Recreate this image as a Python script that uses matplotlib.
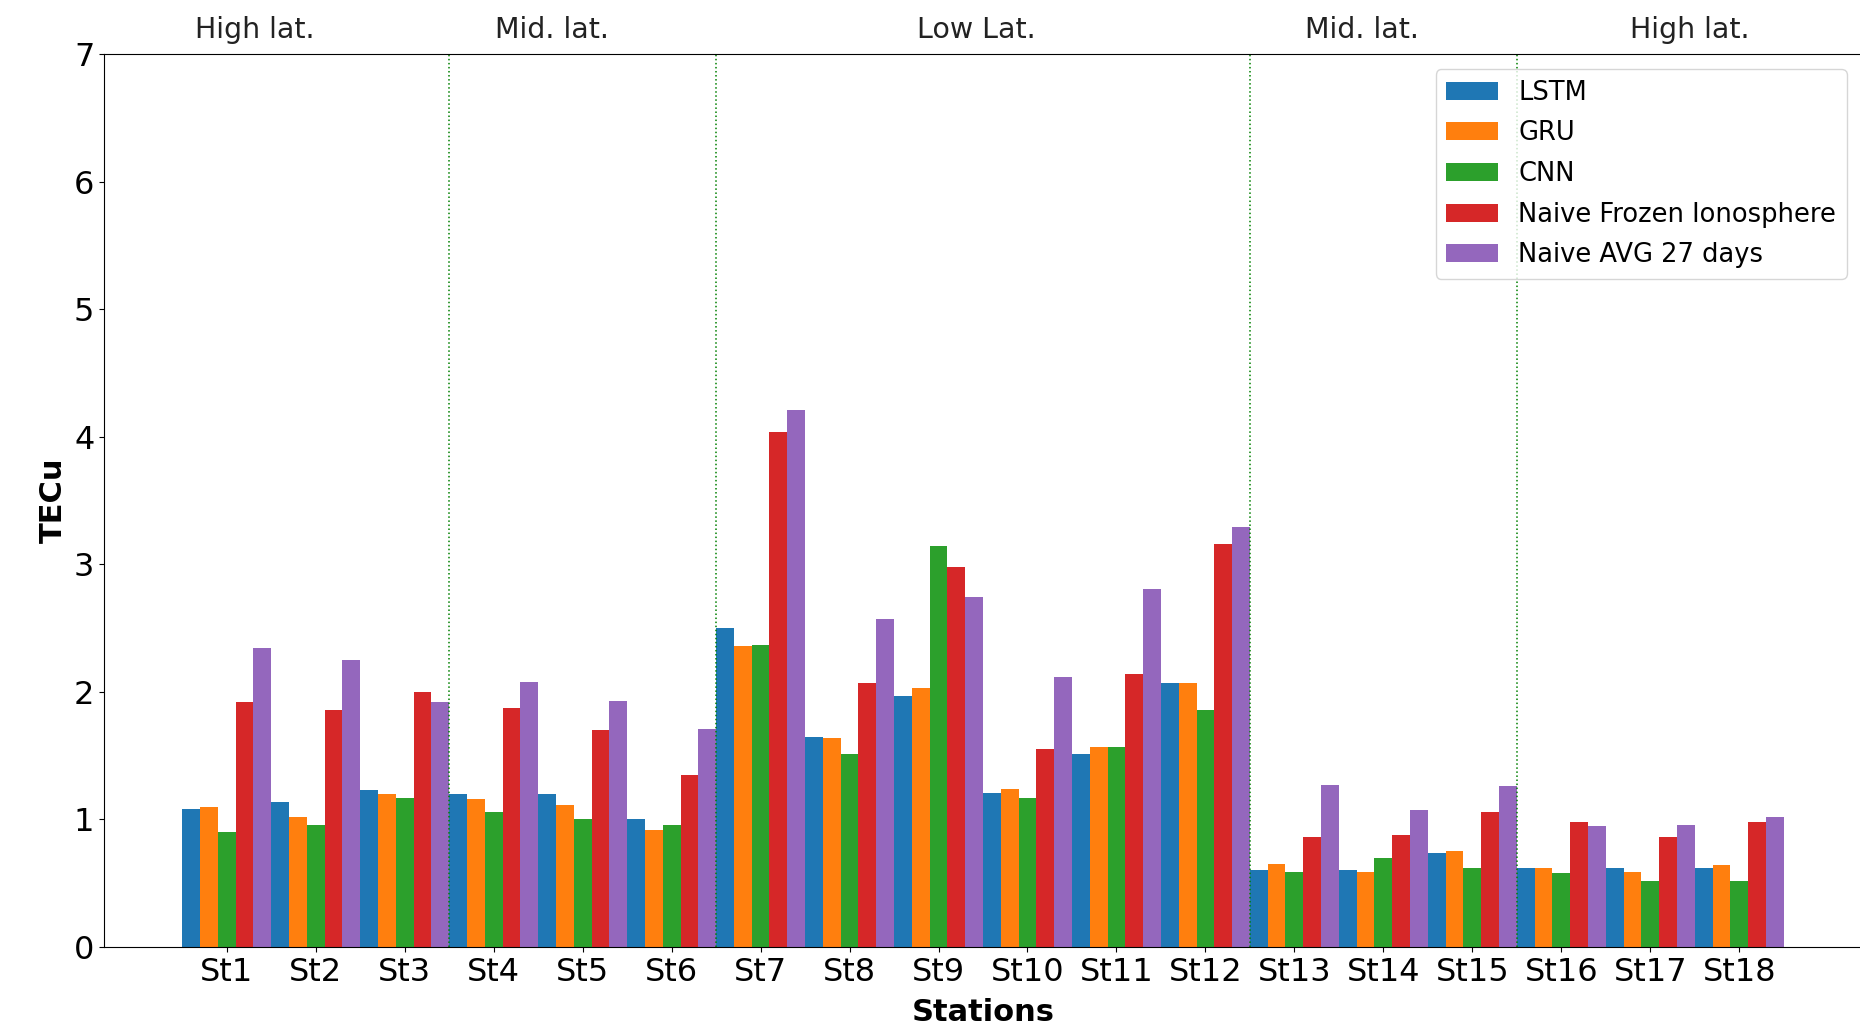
import matplotlib
matplotlib.use("Agg")
import matplotlib.pyplot as plt
import numpy as np

stations = [f"St{i}" for i in range(1, 19)]
models = ["LSTM", "GRU", "CNN", "Naive Frozen Ionosphere", "Naive AVG 27 days"]
colors = ["#1f77b4", "#ff7f0e", "#2ca02c", "#d62728", "#9467bd"]

lstm = [1.08, 1.14, 1.23, 1.20, 1.20, 1.00, 2.50, 1.65, 1.97, 1.21, 1.51, 2.07, 0.60, 0.60, 0.74, 0.62, 0.62, 0.62]
gru = [1.10, 1.02, 1.20, 1.16, 1.11, 0.92, 2.36, 1.64, 2.03, 1.24, 1.57, 2.07, 0.65, 0.59, 0.75, 0.62, 0.59, 0.64]
cnn = [0.90, 0.96, 1.17, 1.06, 1.00, 0.96, 2.37, 1.51, 3.14, 1.17, 1.57, 1.86, 0.59, 0.70, 0.62, 0.58, 0.52, 0.52]
frozen = [1.92, 1.86, 2.00, 1.87, 1.70, 1.35, 4.04, 2.07, 2.98, 1.55, 2.14, 3.16, 0.86, 0.88, 1.06, 0.98, 0.86, 0.98]
avg27 = [2.34, 2.25, 1.92, 2.08, 1.93, 1.71, 4.21, 2.57, 2.74, 2.12, 2.81, 3.29, 1.27, 1.07, 1.26, 0.95, 0.96, 1.02]

# latitude bands: label, x position (station index), separator lines between bands
band_labels = ["High lat.", "Mid. lat.", "Low Lat.", "Mid. lat.", "High lat."]
band_label_x = [0.31, 3.66, 8.43, 12.76, 16.44]
band_edges = [2.5, 5.5, 11.5, 14.5]

fig = plt.figure(figsize=(18.6, 10.29), dpi=100)
ax = fig.add_axes([104 / 1860, 82 / 1029, 1758 / 1860, 893 / 1029])

x = np.arange(len(stations))
width = 0.2
series = [lstm, gru, cnn, frozen, avg27]
for k, (vals, name, col) in enumerate(zip(series, models, colors)):
    ax.bar(x + (k - 2) * width, vals, width, color=col, label=name)

for xe in band_edges:
    ax.axvline(xe, color="green", linestyle=":", linewidth=1.1)

for lab, xl in zip(band_labels, band_label_x):
    ax.text(xl, 1.011, lab, transform=ax.get_xaxis_transform(),
            ha="center", va="bottom", fontsize=20.5, color="#222222")

ax.set_xlim(-1.38, 18.38)
ax.set_ylim(0, 7)
ax.set_xticks(x)
ax.set_xticklabels(stations, fontsize=23)
ax.tick_params(axis="y", labelsize=23)
ax.set_xlabel("Stations", fontsize=22, fontweight="bold", labelpad=7.5)
ax.set_ylabel("TECu", fontsize=22, fontweight="bold")
ax.spines["right"].set_visible(False)

ax.legend(loc="upper right", fontsize=18.5, borderaxespad=0.6, labelspacing=0.57)

fig.savefig("out.png", dpi=100)
